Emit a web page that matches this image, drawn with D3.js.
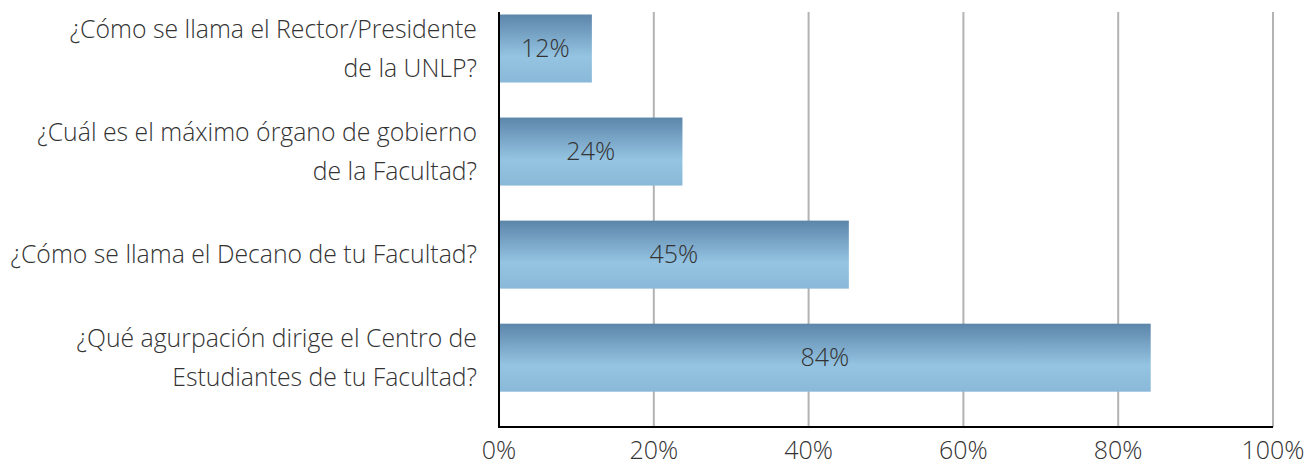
<!DOCTYPE html>
<html>
<head>
<meta charset="utf-8">
<script src="https://cdn.jsdelivr.net/npm/d3@7"></script>
<style>
  body { margin: 0; background: #fff; }
  text { font-family: "Open Sans", sans-serif; font-weight: 300; }
</style>
</head>
<body>
<div id="chart"></div>
<script>
// Data
const questions = [
    ["¿Cómo se llama el Rector/Presidente", "de la UNLP?"],
    ["¿Cuál es el máximo órgano de gobierno", "de la Facultad?"],
    ["¿Cómo se llama el Decano de tu Facultad?"],
    ["¿Qué agurpación dirige el Centro de", "Estudiantes de tu Facultad?"]
]
const values = [12, 23.7, 45.2, 84.2]
const valueLabels = ["12%", "24%", "45%", "84%"]
const ticks = [0, 20, 40, 60, 80, 100]

const dimensions = {
    width: 1313,
    height: 465,
    margin: {top: 12, right: 40, bottom: 38, left: 499},
}

const svg = d3.select("#chart")
    .append("svg")
    .attr("width", dimensions.width)
    .attr("height", dimensions.height)

const plotTop = dimensions.margin.top
const plotBottom = dimensions.height - dimensions.margin.bottom

const x = d3.scaleLinear()
    .domain([0, 100])
    .range([dimensions.margin.left, dimensions.margin.left + 774])

const y = d3.scaleBand()
    .domain(d3.range(questions.length))
    .range([14.5, 391.7])
    .paddingInner(0.34)
    .paddingOuter(0)

// Gradient for bars
const grad = svg.append("defs")
    .append("linearGradient")
    .attr("id", "barGrad")
    .attr("x1", 0).attr("y1", 0).attr("x2", 0).attr("y2", 1)
grad.append("stop").attr("offset", "0%").attr("stop-color", "#5c85aa")
grad.append("stop").attr("offset", "62%").attr("stop-color", "#95c4e2")
grad.append("stop").attr("offset", "100%").attr("stop-color", "#8ab8d8")

// Gridlines
svg.append("g")
    .selectAll("line")
    .data(ticks.filter(t => t > 0))
    .join("line")
    .attr("x1", d => x(d))
    .attr("x2", d => x(d))
    .attr("y1", plotTop)
    .attr("y2", plotBottom)
    .attr("stroke", "#b3b3b3")
    .attr("stroke-width", 2)

// Bars
svg.append("g")
    .selectAll("rect")
    .data(values)
    .join("rect")
    .attr("x", x(0))
    .attr("y", (d, i) => y(i))
    .attr("width", d => x(d) - x(0))
    .attr("height", y.bandwidth())
    .attr("fill", "url(#barGrad)")

// Value labels
svg.append("g")
    .selectAll("text")
    .data(values)
    .join("text")
    .attr("x", d => (x(0) + x(d)) / 2)
    .attr("y", (d, i) => y(i) + y.bandwidth() / 2)
    .attr("dy", "0.35em")
    .attr("text-anchor", "middle")
    .attr("font-size", 25)
    .attr("fill", "#333")
    .text((d, i) => valueLabels[i])

// Category labels
const lineHeight = 39
const cats = svg.append("g")
    .selectAll("text")
    .data(questions)
    .join("text")
    .attr("text-anchor", "end")
    .attr("font-size", 24.8)
    .attr("fill", "#333")
cats.each(function (lines, i) {
    const cy = y(i) + y.bandwidth() / 2
    const start = cy - (lines.length - 1) * lineHeight / 2
    d3.select(this).selectAll("tspan")
        .data(lines)
        .join("tspan")
        .attr("x", 477)
        .attr("y", (l, j) => start + j * lineHeight)
        .attr("dy", "0.35em")
        .text(l => l)
})

// Axes lines
svg.append("line")
    .attr("x1", x(0)).attr("x2", x(0))
    .attr("y1", plotTop).attr("y2", plotBottom + 1)
    .attr("stroke", "#000")
    .attr("stroke-width", 2)
svg.append("line")
    .attr("x1", x(0)).attr("x2", x(100))
    .attr("y1", plotBottom).attr("y2", plotBottom)
    .attr("stroke", "#000")
    .attr("stroke-width", 2)

// X tick labels
svg.append("g")
    .selectAll("text")
    .data(ticks)
    .join("text")
    .attr("x", d => x(d))
    .attr("y", 459)
    .attr("text-anchor", "middle")
    .attr("font-size", 25)
    .attr("fill", "#333")
    .text(d => d + "%")
</script>
</body>
</html>
